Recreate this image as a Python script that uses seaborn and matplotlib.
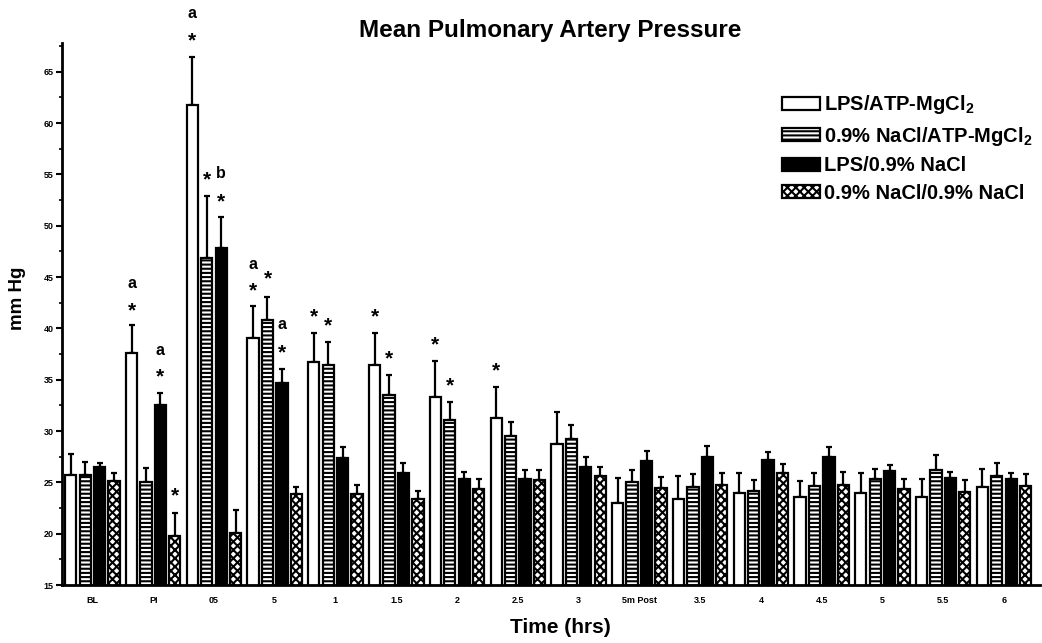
import pandas as pd
import numpy as np
import matplotlib
matplotlib.use('Agg')
import matplotlib.pyplot as plt
from matplotlib.patches import Patch
from matplotlib.ticker import MultipleLocator
import seaborn as sns

# %%
# values (mean and SEM, mm Hg)
time_labels = ['BL', 'PI', '05', '5', '1', '1.5', '2', '2.5', '3', '5m Post',
               '3.5', '4', '4.5', '5', '5.5', '6']
group_names = ['LPS/ATP-MgCl$_2$', '0.9% NaCl/ATP-MgCl$_2$',
               'LPS/0.9% NaCl', '0.9% NaCl/0.9% NaCl']

lps_atp = [25.7, 37.6, 61.8, 39.1, 36.7, 36.4, 33.3, 31.3, 28.7, 23.0, 23.4, 24.0, 23.6, 24.0, 23.6, 24.6]
lps_atp_sem = [2.1, 2.7, 4.6, 3.1, 2.9, 3.2, 3.5, 3.0, 3.2, 2.4, 2.2, 1.9, 1.5, 1.9, 1.7, 1.7]

nacl_atp = [25.7, 25.0, 46.9, 40.8, 36.4, 33.5, 31.1, 29.5, 29.2, 25.0, 24.6, 24.2, 24.7, 25.3, 26.2, 25.6]
nacl_atp_sem = [1.3, 1.4, 6.0, 2.3, 2.3, 2.0, 1.7, 1.4, 1.4, 1.2, 1.2, 1.0, 1.2, 1.0, 1.5, 1.3]

lps_nacl = [26.5, 32.5, 47.8, 34.7, 27.4, 25.9, 25.3, 25.3, 26.5, 27.1, 27.5, 27.2, 27.5, 26.1, 25.4, 25.3]
lps_nacl_sem = [0.4, 1.2, 3.1, 1.4, 1.1, 1.0, 0.7, 0.9, 1.0, 1.0, 1.1, 0.8, 1.0, 0.6, 0.6, 0.6]

nacl_nacl = [25.1, 19.8, 20.1, 23.9, 23.9, 23.4, 24.4, 25.2, 25.6, 24.5, 24.8, 25.9, 24.8, 24.4, 24.1, 24.7]
nacl_nacl_sem = [0.8, 2.2, 2.2, 0.7, 0.9, 0.8, 0.9, 1.0, 0.9, 1.0, 1.1, 0.9, 1.2, 0.9, 1.1, 1.1]

# significance marks: (time index, group index, text, y value)
marks = [
    (1, 0, '*', 42.3), (1, 0, 'a', 44.4),
    (1, 2, '*', 35.9), (1, 2, 'a', 37.9),
    (1, 3, '*', 24.3),
    (2, 0, '*', 68.6), (2, 0, 'a', 70.7),
    (2, 1, '*', 55.1), (2, 2, 'b', 55.1), (2, 2, '*', 52.9),
    (3, 0, '*', 44.3), (3, 0, 'a', 46.2),
    (3, 1, '*', 45.4),
    (3, 2, '*', 38.2), (3, 2, 'a', 40.4),
    (4, 0, '*', 41.7), (4, 1, '*', 40.9),
    (5, 0, '*', 41.7), (5, 1, '*', 37.6),
    (6, 0, '*', 39.0), (6, 1, '*', 35.0),
    (7, 0, '*', 36.5),
]

# %%
means = [lps_atp, nacl_atp, lps_nacl, nacl_nacl]
sems = [lps_atp_sem, nacl_atp_sem, lps_nacl_sem, nacl_nacl_sem]
time_keys = [f't{i}' for i in range(len(time_labels))]

df = pd.DataFrame({
    'time': np.tile(time_keys, len(group_names)),
    'group': np.repeat(group_names, len(time_labels)),
    'mmHg': np.concatenate(means),
})

face = ['white', 'white', 'black', 'white']
hatches = ['', '----', '', 'xxxx']

sns.set_style('ticks')
plt.rcParams['font.family'] = ['Liberation Sans', 'DejaVu Sans']
plt.rcParams['mathtext.default'] = 'regular'
plt.rcParams['hatch.linewidth'] = 1.5
for key in ['text.color', 'axes.labelcolor', 'xtick.color', 'ytick.color', 'axes.edgecolor']:
    plt.rcParams[key] = 'black'

fig = plt.figure(figsize=(10.42, 6.43), dpi=100)
ax = fig.add_axes([0.0595, 0.090, 0.939, 0.843])

sns.barplot(
    data=df, x='time', y='mmHg', hue='group',
    order=time_keys, hue_order=group_names,
    palette=dict(zip(group_names, face)),
    width=0.95, gap=0.22, errorbar=None,
    edgecolor='black', linewidth=1.6, legend=False, ax=ax
)

bar_sets = list(ax.containers)
for k, cont in enumerate(bar_sets):
    xs = []
    for p in cont.patches:
        p.set_hatch(hatches[k])
        p.set_edgecolor('black')
        xs.append(p.get_x() + p.get_width() / 2)
    ax.errorbar(xs, means[k], yerr=[np.zeros(len(xs)), sems[k]],
                fmt='none', ecolor='black', elinewidth=1.6,
                capsize=2.5, capthick=1.6, zorder=0.5)

for ti, gi, txt, yv in marks:
    p = bar_sets[gi].patches[ti]
    if txt == '*':
        ax.text(p.get_x() + p.get_width() / 2, yv - 0.6, txt, ha='center', va='center',
                fontsize=15, fontweight='bold', clip_on=False)
    else:
        ax.text(p.get_x() + p.get_width() / 2, yv, txt, ha='center', va='center',
                fontsize=11.5, fontweight='bold', clip_on=False)

ax.set_ylim(15, 67.8)
ax.set_xlim(-0.5, 15.6)
ax.yaxis.set_major_locator(MultipleLocator(5))
ax.yaxis.set_minor_locator(MultipleLocator(2.5))
ax.set_xticks(range(len(time_labels)))
ax.set_xticklabels(time_labels, fontsize=6.5, fontweight='bold')
for lab in ax.get_yticklabels():
    lab.set_fontsize(6.5)
    lab.set_fontweight('bold')
ax.tick_params(axis='x', length=0, pad=8)
ax.tick_params(axis='y', which='major', length=4, width=1.5, pad=2)
ax.tick_params(axis='y', which='minor', length=2, width=1.2)

sns.despine(ax=ax)
for s in ['left', 'bottom']:
    ax.spines[s].set_linewidth(2)

ax.set_xlabel('Time (hrs)', fontsize=15, fontweight='bold')
ax.xaxis.set_label_coords(0.509, -0.060)
ax.set_ylabel('mm Hg', fontsize=13.5, fontweight='bold')
ax.yaxis.set_label_coords(-0.037, 0.53)
fig.text(0.528, 0.953, 'Mean Pulmonary Artery Pressure', ha='center', va='center',
         fontsize=17.5, fontweight='bold')

handles = [Patch(facecolor=face[k], edgecolor='black', hatch=hatches[k],
                 linewidth=1.6, label=group_names[k]) for k in range(4)]
ax.legend(handles=handles, loc='upper right', bbox_to_anchor=(1.0, 0.922),
          frameon=False, prop={'size': 14.5, 'weight': 'bold'},
          handlelength=1.9, handleheight=0.6,
          handletextpad=0.2, labelspacing=0.42, borderaxespad=0)

fig.savefig('out.png', dpi=100)
